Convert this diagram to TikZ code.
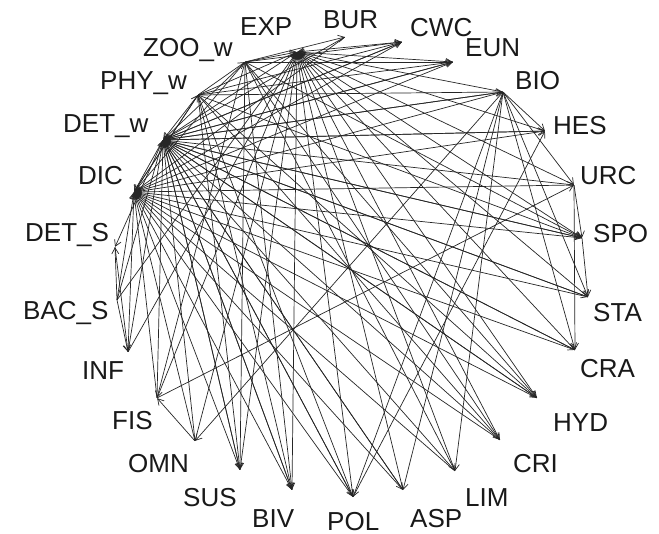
\documentclass[tikz,border=0pt]{standalone}
\usepackage{fontspec}
\setmainfont{Liberation Sans}
\usetikzlibrary{arrows.meta}
\begin{document}
\begin{tikzpicture}[x=1pt,y=-1pt,
  pt/.style={inner sep=0pt,minimum size=0pt},
  lbl/.style={anchor=base west,inner sep=0pt,font=\fontsize{26}{30}\selectfont,text=black!90},
  edge/.style={draw=black!85,line width=0.7pt,-{Straight Barb[length=6pt,width=7pt]}}]
\useasboundingbox (0,0) rectangle (659,534);
\fill[white] (0,0) rectangle (659,534);

% compartments on the ring
\node[pt] (EXP)  at (297,52)  {};
\node[pt] (BUR)  at (345,37)  {};
\node[pt] (CWC)  at (402,42)  {};
\node[pt] (EUN)  at (453,62)  {};
\node[pt] (BIO)  at (503,92)  {};
\node[pt] (HES)  at (545,131) {};
\node[pt] (URC)  at (574,185) {};
\node[pt] (SPO)  at (582,238) {};
\node[pt] (STA)  at (588,297) {};
\node[pt] (CRA)  at (575,350) {};
\node[pt] (HYD)  at (537,398) {};
\node[pt] (CRI)  at (500,440) {};
\node[pt] (LIM)  at (455,471) {};
\node[pt] (ASP)  at (403,490) {};
\node[pt] (POL)  at (353,497) {};
\node[pt] (BIV)  at (292,490) {};
\node[pt] (SUS)  at (240,470) {};
\node[pt] (OMN)  at (195,441) {};
\node[pt] (FIS)  at (157,398) {};
\node[pt] (INF)  at (128,352) {};
\node[pt] (BACS) at (117,300) {};
\node[pt] (DETS) at (115,247) {};
\node[pt] (DIC)  at (134,192) {};
\node[pt] (DETw) at (163,140) {};
\node[pt] (PHYw) at (198,95)  {};
\node[pt] (ZOOw) at (245,62)  {};

% labels
\node[lbl] (lEXP)  at (240,36)  {EXP};
\node[lbl] (lBUR)  at (323,29)  {BUR};
\node[lbl] (lCWC)  at (410,37)  {CWC};
\node[lbl] (lEUN)  at (465,57)  {EUN};
\node[lbl] (lBIO)  at (515,90)  {BIO};
\node[lbl] (lHES)  at (553,135) {HES};
\node[lbl] (lURC)  at (580,185) {URC};
\node[lbl] (lSPO)  at (593,243) {SPO};
\node[lbl] (lSTA)  at (593,322) {STA};
\node[lbl] (lCRA)  at (580,378) {CRA};
\node[lbl] (lHYD)  at (553,432) {HYD};
\node[lbl] (lCRI)  at (513,473) {CRI};
\node[lbl] (lLIM)  at (465,507) {LIM};
\node[lbl] (lASP)  at (410,528) {ASP};
\node[lbl] (lPOL)  at (327,530) {POL};
\node[lbl] (lBIV)  at (252,527) {BIV};
\node[lbl] (lSUS)  at (183,507) {SUS};
\node[lbl] (lOMN)  at (128,473) {OMN};
\node[lbl] (lFIS)  at (112,430) {FIS};
\node[lbl] (lINF)  at (82,380)  {INF};
\node[lbl] (lBACS) at (23,320)  {BAC\_S};
\node[lbl] (lDETS) at (25,242)  {DET\_S};
\node[lbl] (lDIC)  at (78,185)  {DIC};
\node[lbl] (lDETw) at (63,133)  {DET\_w};
\node[lbl] (lPHYw) at (100,90)  {PHY\_w};
\node[lbl] (lZOOw) at (143,57)  {ZOO\_w};

% flows to export, water detritus and dissolved carbon
\foreach \s in {ZOOw,PHYw,CWC,EUN,BIO,HES,URC,SPO,STA,CRA,HYD,CRI,LIM,ASP,POL,BIV,SUS,OMN,FIS,INF,BACS}{
  \draw[edge] (\s) -- (EXP);
  \draw[edge] (\s) -- (DETw);
  \draw[edge] (\s) -- (DIC);
}
\draw[edge] (BUR) -- (DETw);
\draw[edge] (BUR) -- (DIC);

% feeding and transfer links
\foreach \s/\t in {
  PHYw/ZOOw, PHYw/BIO, PHYw/CWC, PHYw/EUN, PHYw/SPO, PHYw/HYD, PHYw/BIV, PHYw/SUS, PHYw/POL, PHYw/CRI,
  ZOOw/EUN, ZOOw/CWC, ZOOw/BUR, ZOOw/HYD, ZOOw/CRI, ZOOw/SPO, ZOOw/SUS, ZOOw/BIV, ZOOw/FIS, ZOOw/LIM,
  DETw/HES, DETw/BIO, DETw/CWC, DETw/EUN, DETw/SPO, DETw/SUS, DETw/BIV, DETw/POL, DETw/ASP, DETw/HYD,
  DETw/STA, DETw/CRA, DETw/DETS, DETw/DIC, DETw/EXP,
  DIC/PHYw,
  BIO/URC, BIO/HES, BIO/CRA, BIO/LIM, BIO/ASP, BIO/POL, BIO/OMN, BIO/STA,
  BACS/INF, BACS/DETS, DETS/INF,
  SPO/STA, URC/SPO, URC/CRA, OMN/FIS, POL/HES, FIS/URC}{
  \draw[edge] (\s) -- (\t);
}
\end{tikzpicture}
\end{document}
